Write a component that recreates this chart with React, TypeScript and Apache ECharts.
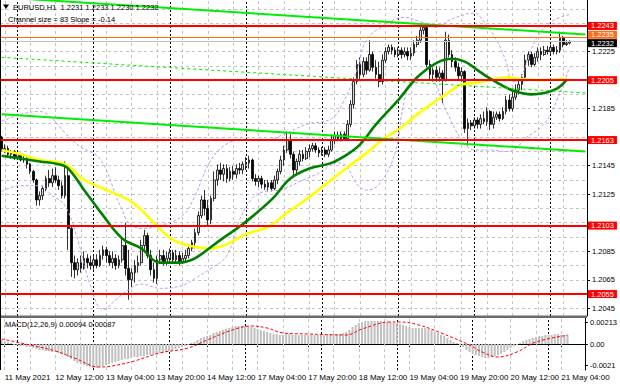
import React, { useEffect, useRef } from "react";
import * as echarts from "echarts";

// [open, close, low, high] — EURUSD H1, 11 May 19:00 .. 21 May 06:00
const candles: number[][] = [
  [1.2165,1.2156,1.2155,1.2166],[1.2156,1.2157,1.2154,1.2160],[1.2157,1.2153,1.2151,1.2159],[1.2153,1.2155,1.2150,1.2156],
  [1.2155,1.2151,1.2149,1.2156],[1.2151,1.2153,1.2149,1.2154],[1.2153,1.2149,1.2148,1.2154],[1.2149,1.2150,1.2147,1.2152],
  [1.2150,1.2146,1.2143,1.2151],[1.2146,1.2141,1.2139,1.2147],[1.2141,1.2135,1.2133,1.2142],[1.2135,1.2121,1.2117,1.2136],
  [1.2121,1.2124,1.2117,1.2127],[1.2124,1.2129,1.2121,1.2131],[1.2129,1.2136,1.2127,1.2138],[1.2136,1.2133,1.2130,1.2142],
  [1.2133,1.2138,1.2130,1.2143],[1.2138,1.2135,1.2133,1.2144],[1.2135,1.2131,1.2128,1.2138],[1.2131,1.2124,1.2122,1.2134],
  [1.2124,1.2138,1.2122,1.2148],[1.2138,1.2101,1.2086,1.2143],[1.2101,1.2077,1.2067,1.2103],[1.2077,1.2072,1.2066,1.2082],
  [1.2072,1.2077,1.2068,1.2080],[1.2077,1.2073,1.2070,1.2082],[1.2073,1.2080,1.2072,1.2085],[1.2080,1.2077,1.2073,1.2083],
  [1.2077,1.2075,1.2072,1.2082],[1.2075,1.2079,1.2072,1.2082],[1.2079,1.2075,1.2073,1.2083],[1.2075,1.2082,1.2074,1.2086],
  [1.2082,1.2086,1.2079,1.2089],[1.2086,1.2082,1.2077,1.2088],[1.2082,1.2077,1.2075,1.2085],[1.2077,1.2080,1.2073,1.2085],
  [1.2080,1.2075,1.2072,1.2083],[1.2075,1.2079,1.2073,1.2082],[1.2079,1.2089,1.2077,1.2095],[1.2089,1.2073,1.2068,1.2105],
  [1.2073,1.2065,1.2051,1.2086],[1.2065,1.2070,1.2060,1.2073],[1.2070,1.2075,1.2063,1.2079],[1.2075,1.2077,1.2070,1.2082],
  [1.2077,1.2089,1.2075,1.2093],[1.2089,1.2096,1.2086,1.2100],[1.2096,1.2082,1.2080,1.2098],[1.2082,1.2072,1.2068,1.2086],
  [1.2072,1.2066,1.2063,1.2077],[1.2066,1.2079,1.2062,1.2082],[1.2079,1.2082,1.2076,1.2086],[1.2082,1.2077,1.2075,1.2086],
  [1.2077,1.2080,1.2075,1.2085],[1.2080,1.2084,1.2077,1.2087],[1.2084,1.2079,1.2076,1.2086],[1.2079,1.2082,1.2077,1.2086],
  [1.2082,1.2077,1.2075,1.2085],[1.2077,1.2080,1.2076,1.2084],[1.2080,1.2082,1.2077,1.2086],[1.2082,1.2087,1.2080,1.2090],
  [1.2087,1.2091,1.2085,1.2093],[1.2091,1.2098,1.2087,1.2101],[1.2098,1.2110,1.2096,1.2113],[1.2110,1.2121,1.2108,1.2124],
  [1.2121,1.2115,1.2110,1.2128],[1.2115,1.2107,1.2103,1.2121],[1.2107,1.2122,1.2104,1.2124],[1.2122,1.2135,1.2120,1.2141],
  [1.2135,1.2142,1.2131,1.2146],[1.2142,1.2139,1.2135,1.2147],[1.2139,1.2143,1.2134,1.2146],[1.2143,1.2136,1.2133,1.2146],
  [1.2136,1.2141,1.2134,1.2144],[1.2141,1.2139,1.2135,1.2145],[1.2139,1.2143,1.2136,1.2146],[1.2143,1.2142,1.2139,1.2147],
  [1.2142,1.2146,1.2139,1.2148],[1.2146,1.2147,1.2142,1.2151],[1.2147,1.2149,1.2143,1.2152],[1.2149,1.2136,1.2134,1.2150],
  [1.2136,1.2134,1.2131,1.2139],[1.2134,1.2136,1.2130,1.2138],[1.2136,1.2132,1.2129,1.2138],[1.2132,1.2130,1.2128,1.2135],
  [1.2130,1.2133,1.2127,1.2135],[1.2133,1.2129,1.2127,1.2135],[1.2129,1.2135,1.2128,1.2138],[1.2135,1.2141,1.2132,1.2143],
  [1.2141,1.2149,1.2139,1.2152],[1.2149,1.2156,1.2145,1.2159],[1.2156,1.2163,1.2154,1.2169],[1.2163,1.2153,1.2150,1.2167],
  [1.2153,1.2142,1.2137,1.2155],[1.2142,1.2148,1.2139,1.2150],[1.2148,1.2153,1.2145,1.2156],[1.2153,1.2150,1.2148,1.2156],
  [1.2150,1.2155,1.2149,1.2158],[1.2155,1.2157,1.2151,1.2160],[1.2157,1.2159,1.2155,1.2161],[1.2159,1.2156,1.2154,1.2161],
  [1.2156,1.2154,1.2151,1.2158],[1.2154,1.2156,1.2152,1.2158],[1.2156,1.2153,1.2151,1.2158],[1.2153,1.2156,1.2151,1.2159],
  [1.2156,1.2163,1.2155,1.2167],[1.2163,1.2166,1.2160,1.2169],[1.2166,1.2164,1.2162,1.2169],[1.2164,1.2167,1.2162,1.2169],
  [1.2167,1.2164,1.2163,1.2169],[1.2164,1.2174,1.2163,1.2177],[1.2174,1.2188,1.2172,1.2191],[1.2188,1.2204,1.2185,1.2207],
  [1.2204,1.2216,1.2202,1.2219],[1.2216,1.2209,1.2205,1.2221],[1.2209,1.2218,1.2207,1.2221],[1.2218,1.2212,1.2209,1.2221],
  [1.2212,1.2223,1.2211,1.2233],[1.2223,1.2214,1.2211,1.2225],[1.2214,1.2209,1.2206,1.2219],[1.2209,1.2204,1.2200,1.2218],
  [1.2204,1.2219,1.2202,1.2223],[1.2219,1.2225,1.2217,1.2228],[1.2225,1.2228,1.2223,1.2230],[1.2228,1.2226,1.2223,1.2230],
  [1.2226,1.2223,1.2221,1.2228],[1.2223,1.2226,1.2221,1.2228],[1.2226,1.2223,1.2220,1.2228],[1.2223,1.2225,1.2221,1.2228],
  [1.2225,1.2222,1.2219,1.2228],[1.2222,1.2224,1.2219,1.2228],[1.2224,1.2230,1.2222,1.2233],[1.2230,1.2233,1.2228,1.2236],
  [1.2233,1.2240,1.2231,1.2243],[1.2240,1.2242,1.2237,1.2244],[1.2242,1.2216,1.2214,1.2244],[1.2216,1.2209,1.2205,1.2219],
  [1.2209,1.2212,1.2204,1.2214],[1.2212,1.2207,1.2204,1.2215],[1.2207,1.2210,1.2204,1.2214],[1.2210,1.2205,1.2189,1.2212],
  [1.2205,1.2233,1.2204,1.2239],[1.2233,1.2223,1.2221,1.2237],[1.2223,1.2218,1.2214,1.2226],[1.2218,1.2214,1.2211,1.2221],
  [1.2214,1.2208,1.2205,1.2217],[1.2208,1.2211,1.2204,1.2214],[1.2211,1.2171,1.2168,1.2212],[1.2171,1.2175,1.2159,1.2178],
  [1.2175,1.2173,1.2170,1.2177],[1.2173,1.2177,1.2171,1.2179],[1.2177,1.2174,1.2171,1.2179],[1.2174,1.2178,1.2171,1.2181],
  [1.2178,1.2176,1.2174,1.2183],[1.2176,1.2183,1.2173,1.2186],[1.2183,1.2174,1.2170,1.2184],[1.2174,1.2179,1.2171,1.2183],
  [1.2179,1.2181,1.2177,1.2183],[1.2181,1.2178,1.2176,1.2183],[1.2178,1.2183,1.2177,1.2186],[1.2183,1.2191,1.2181,1.2194],
  [1.2191,1.2185,1.2183,1.2195],[1.2185,1.2193,1.2183,1.2197],[1.2193,1.2198,1.2191,1.2202],[1.2198,1.2202,1.2195,1.2205],
  [1.2202,1.2207,1.2198,1.2209],[1.2207,1.2219,1.2205,1.2223],[1.2219,1.2223,1.2215,1.2225],[1.2223,1.2216,1.2214,1.2225],
  [1.2216,1.2221,1.2215,1.2224],[1.2221,1.2225,1.2218,1.2228],[1.2225,1.2223,1.2219,1.2228],[1.2223,1.2226,1.2222,1.2229],
  [1.2226,1.2225,1.2223,1.2229],[1.2225,1.2228,1.2223,1.2230],[1.2228,1.2225,1.2223,1.2230],[1.2225,1.2226,1.2223,1.2229],
  [1.2226,1.2235,1.2224,1.2239],[1.2235,1.2230,1.2228,1.2236],[1.2230,1.2231,1.2229,1.2233],[1.2231,1.2232,1.2230,1.2233],
];

// [bar index, price]
const maGreen: number[][] = [
  [0,1.2152],[6,1.2150],[12,1.2148],[18,1.2146],[21,1.2143],[26,1.2128],[31,1.2113],[38,1.2094],[44,1.2087],
  [50,1.2077],[56,1.2077],[60,1.2079],[63,1.2083],[69,1.2093],[76,1.2104],[85,1.2121],[91,1.2136],[97,1.2143],
  [104,1.2147],[109,1.2153],[113,1.2160],[118,1.2174],[125,1.2191],[131,1.2207],[137,1.2217],[142,1.2220],
  [146,1.2218],[150,1.2212],[154,1.2206],[158,1.2201],[162,1.2197],[167,1.2195],[171,1.2196],[175,1.2199],[178,1.2205],
];
const maYellow: number[][] = [
  [0,1.2156],[6,1.2153],[12,1.2149],[20,1.2146],[26,1.2135],[33,1.2128],[40,1.2121],[44,1.2114],[48,1.2105],
  [54,1.2093],[61,1.2088],[66,1.2087],[71,1.2090],[77,1.2097],[84,1.2102],[90,1.2112],[97,1.2123],[105,1.2137],
  [115,1.2154],[120,1.2163],[126,1.2172],[131,1.2181],[136,1.2189],[140,1.2195],[145,1.2202],[149,1.2203],
  [154,1.2205],[159,1.2207],[163,1.2206],[170,1.2205],[178,1.2206],
];
const bandUpper: number[][] = [
  [0,1.2176],[6,1.2181],[12,1.2183],[16,1.2178],[20,1.2168],[25,1.2158],[30,1.2152],[33,1.2142],[36,1.2124],
  [38,1.2114],[40,1.2105],[44,1.2101],[50,1.2103],[57,1.2110],[61,1.2124],[65,1.2145],[69,1.2157],[75,1.2163],
  [83,1.2163],[90,1.2168],[96,1.2174],[104,1.2178],[108,1.2191],[112,1.2212],[115,1.2233],[121,1.2244],
  [127,1.2249],[132,1.2246],[137,1.2242],[141,1.2247],[146,1.2251],[149,1.2252],[152,1.2246],[156,1.2233],
  [159,1.2218],[161,1.2204],[163,1.2205],[167,1.2227],[170,1.2239],[174,1.2247],[179,1.2251],
];
const bandLower: number[][] = [
  [0,1.2127],[6,1.2131],[12,1.2131],[16,1.2124],[20,1.2117],[24,1.2093],[28,1.2061],[32,1.2044],[36,1.2051],
  [40,1.2058],[44,1.2062],[50,1.2059],[57,1.2061],[61,1.2066],[66,1.2073],[71,1.2082],[75,1.2107],[79,1.2122],
  [83,1.2127],[88,1.2128],[94,1.2134],[101,1.2141],[105,1.2147],[108,1.2146],[112,1.2132],[115,1.2128],
  [119,1.2132],[124,1.2154],[127,1.2191],[130,1.2204],[135,1.2205],[140,1.2184],[145,1.2163],[149,1.2156],
  [154,1.2156],[159,1.2155],[162,1.2157],[165,1.2164],[170,1.2172],[173,1.2181],[175,1.2191],[177,1.2202],[179,1.2214],
];
const channelUpper: number[][] = [[0,1.2263],[184,1.2237]];
const channelMiddle: number[][] = [[0,1.2221],[184,1.2196]];
const channelLower: number[][] = [[0,1.2181],[184,1.2155]];

const macdHist: number[] = [
  0.0004,0.0003,0.0002,0.0001,
  -0.0001,-0.0001,-0.0002,-0.0002,-0.0003,-0.0003,-0.0004,
  -0.0005,-0.0006,-0.0006,-0.0007,-0.0007,-0.0008,-0.0008,-0.0009,-0.0010,-0.0011,-0.0013,
  -0.0015,-0.0017,-0.0019,-0.0020,-0.0021,-0.0022,-0.0023,
  -0.0024,-0.0024,-0.0023,
  -0.0022,-0.0021,-0.0020,-0.0019,-0.0018,-0.0017,
  -0.0016,-0.0015,-0.0015,-0.0014,-0.0013,-0.0013,-0.0012,-0.0012,-0.0011,-0.0011,-0.0010,-0.0010,-0.0009,
  -0.0009,-0.0008,-0.0007,-0.0006,-0.0005,-0.0004,-0.0003,-0.0002,-0.0001,
  0.0001,0.0002,0.0004,0.0006,
  0.0007,0.0008,0.0009,0.0011,0.0012,0.0013,0.0014,0.0015,0.0016,0.0017,
  0.0018,0.0018,0.0018,0.0018,0.0018,0.0017,
  0.0016,0.0015,0.0014,0.0013,0.0012,0.0011,0.0010,0.0010,
  0.0009,0.0009,0.0010,0.0010,0.0009,0.0009,0.0009,0.0009,0.0009,0.0009,0.0009,0.0009,0.0009,0.0009,0.0009,0.0009,
  0.0010,0.0010,0.0010,0.0010,0.0011,0.0012,
  0.0014,0.0017,0.0019,0.0021,0.0022,
  0.0023,0.0023,0.0023,0.0023,0.0023,0.0023,0.0022,0.0022,0.0022,0.0021,
  0.0021,0.0020,0.0019,0.0018,0.0017,0.0016,0.0016,
  0.0016,0.0016,0.0016,0.0015,0.0014,
  0.0012,0.0011,0.0009,0.0008,0.0006,0.0004,
  0.0002,0.0001,-0.0001,-0.0003,-0.0006,
  -0.0008,-0.0010,-0.0011,-0.0012,-0.0013,-0.0014,-0.0014,-0.0013,-0.0012,
  -0.0011,-0.0010,-0.0008,-0.0006,-0.0004,-0.0002,
  -0.0001,0.0001,0.0003,0.0004,
  0.0005,0.0006,0.0007,0.0008,0.0008,0.0009,0.0009,0.0009,0.0010,0.0010,0.0009,0.0009,0.00094,
];
const macdSignal: number[][] = [
  [0,0.0005],[9,-0.0001],[17,-0.0007],[23,-0.0014],[31,-0.0023],[35,-0.0022],[42,-0.0017],[50,-0.0009],
  [59,-0.0004],[65,0.0004],[73,0.0014],[79,0.0018],[84,0.0016],[89,0.0011],[97,0.0010],[109,0.0009],
  [114,0.0015],[123,0.0022],[126,0.0022],[132,0.0019],[139,0.0011],[148,-0.0001],[152,-0.0008],[157,-0.0013],
  [163,-0.0008],[169,0.0002],[179,0.00087],
];

const redLevels = [1.2243, 1.2205, 1.2163, 1.2103, 1.2055];
const orangeLevel = 1.2235;
const bidLevel = 1.2232;
const priceTickLabels = [1.2045, 1.2065, 1.2085, 1.2125, 1.2145, 1.2185, 1.2225];
const priceGridLevels = [
  1.2045,1.2055,1.2065,1.2075,1.2085,1.2095,1.2105,1.2115,1.2125,1.2135,1.2145,
  1.2155,1.2165,1.2175,1.2185,1.2195,1.2205,1.2215,1.2225,1.2235,1.2245,1.2255,
];
const macdTickValues = [0.00213, 0, -0.0021];
const macdTickTexts = ["0.00213", "0.00", "-0.0021"];
const xTickLabels = [
  "11 May 2021", "12 May 12:00", "13 May 04:00", "13 May 20:00", "14 May 12:00", "17 May 04:00",
  "17 May 20:00", "18 May 12:00", "19 May 04:00", "19 May 20:00", "20 May 12:00", "21 May 04:00",
];
const daySeparatorBars = [5, 29, 53, 77, 101, 125, 149, 173];

const BAR_SLOTS = 185;
const FONT = "'Liberation Sans', Arial, sans-serif";

export default function App() {
  const ref = useRef<HTMLDivElement>(null);
  useEffect(() => {
    if (!ref.current) return;
    const chart = echarts.init(ref.current, null, { renderer: "svg" });
    const cats = Array.from({ length: BAR_SLOTS }, (_, i) => String(i));
    const labelIdx = xTickLabels.map((_, k) => 1 + 16 * k);
    const labelMap: Record<number, string> = {};
    labelIdx.forEach((idx, k) => (labelMap[idx] = xTickLabels[k]));
    const vGrid: number[] = [];
    for (let i = 1; i < BAR_SLOTS; i += 8) vGrid.push(i);

    const gridLineStyle = { color: "#c4c4c4", width: 1, type: [3, 3] as any };
    const sepStyle = { color: "#000", width: 1, type: [2, 2] as any };
    const vLines = [
      ...vGrid.filter((i) => !daySeparatorBars.includes(i)).map((i) => ({ xAxis: cats[i], lineStyle: gridLineStyle })),
      ...daySeparatorBars.map((i) => ({ xAxis: cats[i], lineStyle: sepStyle })),
    ];
    const levelLabel = (bg: string, dy: number) => ({
      show: true,
      position: "end",
      distance: 1,
      offset: [0, dy],
      color: "#fff",
      backgroundColor: bg,
      padding: [1, 3, 0, 3],
      fontSize: 7.5,
      lineHeight: 7,
      fontFamily: FONT,
    });

    const option: any = {
      animation: false,
      backgroundColor: "#ffffff",
      grid: [
        { left: -1.5, right: 33, top: 0, height: 316 },
        { left: -1.5, right: 33, top: 318, height: 52 },
      ],
      xAxis: [
        {
          type: "category", gridIndex: 0, data: cats, boundaryGap: true,
          axisLine: { show: false }, axisTick: { show: false }, axisLabel: { show: false }, splitLine: { show: false },
        },
        {
          type: "category", gridIndex: 1, data: cats, boundaryGap: true,
          axisLine: { show: true, lineStyle: { color: "#000", width: 1 } },
          axisTick: { show: true, alignWithLabel: true, interval: (i: number) => labelMap[i] !== undefined, length: 3, lineStyle: { color: "#000" } },
          axisLabel: {
            interval: (i: number) => labelMap[i] !== undefined,
            formatter: (_v: string, i: number) => labelMap[i] ?? "",
            align: "left", fontSize: 8, color: "#000", margin: 3, fontFamily: FONT,
          },
          splitLine: { show: false },
        },
      ],
      yAxis: [
        {
          type: "value", gridIndex: 0, position: "right", min: 1.20396, max: 1.22612, scale: true,
          axisLine: { show: true, lineStyle: { color: "#000", width: 1 } },
          axisTick: { show: true, customValues: priceTickLabels, length: 3, lineStyle: { color: "#000" } },
          axisLabel: { customValues: priceTickLabels, formatter: (v: number) => v.toFixed(4), fontSize: 7.5, color: "#000", margin: 5, fontFamily: FONT },
          splitLine: { show: false },
        },
        {
          type: "value", gridIndex: 1, position: "right", min: -0.0026, max: 0.0026,
          axisLine: { show: true, lineStyle: { color: "#000", width: 1 } },
          axisTick: { show: true, customValues: macdTickValues, length: 3, lineStyle: { color: "#000" } },
          axisLabel: {
            customValues: macdTickValues,
            formatter: (v: number) => macdTickTexts[macdTickValues.findIndex((t) => Math.abs(t - v) < 1e-7)] ?? "",
            fontSize: 7.5, color: "#000", margin: 5, fontFamily: FONT,
          },
          splitLine: { show: false },
        },
      ],
      series: [
        {
          name: "price", type: "candlestick", xAxisIndex: 0, yAxisIndex: 0, data: candles, barWidth: 2.2, z: 3,
          itemStyle: { color: "#d8d8d8", color0: "#000000", borderColor: "#000000", borderColor0: "#000000", borderWidth: 0.8 },
          markLine: {
            silent: true, symbol: "none", z: 1, animation: false, precision: 5, label: { show: false },
            data: [...priceGridLevels.map((v) => ({ yAxis: v, lineStyle: gridLineStyle })), ...vLines],
          },
        },
        {
          name: "bbUpper", type: "line", data: bandUpper, smooth: 0.4, showSymbol: false, z: 4,
          lineStyle: { color: "#c898e8", width: 1, type: [3, 2] },
        },
        {
          name: "bbLower", type: "line", data: bandLower, smooth: 0.4, showSymbol: false, z: 4,
          lineStyle: { color: "#c898e8", width: 1, type: [3, 2] },
        },
        {
          name: "maYellow", type: "line", data: maYellow, smooth: 0.4, showSymbol: false, z: 5,
          lineStyle: { color: "#ffff00", width: 2.6 },
        },
        {
          name: "maGreen", type: "line", data: maGreen, smooth: 0.4, showSymbol: false, z: 6,
          lineStyle: { color: "#008000", width: 2.6 },
        },
        {
          name: "chUpper", type: "line", data: channelUpper, showSymbol: false, z: 7,
          lineStyle: { color: "#00ee00", width: 2 },
          markLine: {
            silent: true, symbol: "none", z: 8, animation: false, precision: 5,
            data: [
              { yAxis: bidLevel, lineStyle: { color: "#c0c0c0", width: 1, type: "solid" }, label: { show: false } },
              { yAxis: orangeLevel, lineStyle: { color: "#ff6a1a", width: 1, type: "solid" }, label: { ...levelLabel("#ff6a1a", -2.5), formatter: orangeLevel.toFixed(4) } },
              ...redLevels.map((v) => ({
                yAxis: v, lineStyle: { color: "#ff0000", width: 2, type: "solid" },
                label: { ...levelLabel("#ff0000", 0), formatter: v.toFixed(4) },
              })),
            ],
          },
        },
        {
          name: "chMiddle", type: "line", data: channelMiddle, showSymbol: false, z: 7,
          lineStyle: { color: "#00ee00", width: 1, type: [3, 3] },
          markLine: {
            silent: true, symbol: "none", z: 9, animation: false, precision: 5,
            data: [
              { yAxis: bidLevel, lineStyle: { color: "#c0c0c0", width: 1, type: "solid" }, label: { ...levelLabel("#000000", 1.5), formatter: bidLevel.toFixed(4) } },
            ],
          },
        },
        {
          name: "chLower", type: "line", data: channelLower, showSymbol: false, z: 7,
          lineStyle: { color: "#00ee00", width: 2 },
        },
        {
          name: "MACD", type: "bar", xAxisIndex: 1, yAxisIndex: 1, data: macdHist, barWidth: 2, z: 3,
          itemStyle: { color: "#c0c0c0" },
          markLine: { silent: true, symbol: "none", z: 1, animation: false, precision: 5, label: { show: false }, data: vLines },
        },
        {
          name: "Signal", type: "line", xAxisIndex: 1, yAxisIndex: 1, data: macdSignal, smooth: 0.4, showSymbol: false, z: 4,
          lineStyle: { color: "#ff0000", width: 1, type: [3, 2] },
        },
      ],
      graphic: [
        { type: "rect", shape: { x: 0, y: 315.5, width: 587, height: 2.5 }, style: { fill: "#6a6a6a" }, z: 50, silent: true },
        { type: "line", shape: { x1: 0.5, y1: 0, x2: 0.5, y2: 370 }, style: { stroke: "#000", lineWidth: 1 }, z: 50, silent: true },
        { type: "polygon", shape: { points: [[3, 4.5], [9, 4.5], [6, 9]] }, style: { fill: "#000" }, z: 50, silent: true },
        { type: "text", x: 13, y: 7, z: 50, silent: true, style: { text: "EURUSD,H1  1.2231 1.2233 1.2230 1.2232", fill: "#000", fontSize: 7.5, fontFamily: FONT, verticalAlign: "middle" } },
        { type: "text", x: 8, y: 19, z: 50, silent: true, style: { text: "Channel size = 83 Slope = -0.14", fill: "#000", fontSize: 7.5, fontFamily: FONT, verticalAlign: "middle" } },
        { type: "text", x: 5, y: 324, z: 50, silent: true, style: { text: "MACD(12,26,9) 0.00094 0.00087", fill: "#000", fontSize: 7.5, fontFamily: FONT, verticalAlign: "middle" } },
      ],
    };
    chart.setOption(option);
    return () => chart.dispose();
  }, []);
  return <div ref={ref} style={{ position: "absolute", left: 0, top: 0, width: 620, height: 388 }} />;
}
